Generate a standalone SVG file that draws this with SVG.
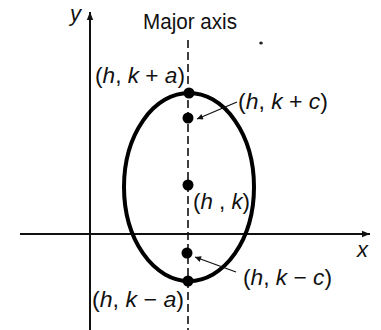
<svg xmlns="http://www.w3.org/2000/svg" width="381" height="330" viewBox="0 0 381 330">
<style>
.ax{stroke:#111;stroke-width:2;fill:none}
.dash{stroke:#111;stroke-width:1.6;stroke-dasharray:8 4;fill:none}
.ell{stroke:#000;stroke-width:4;fill:none}
.lead{stroke:#111;stroke-width:1.3;fill:none}
.t{font-family:"Liberation Sans",Arial,sans-serif;font-size:22px;fill:#111}
.i{font-style:italic}
</style>
<defs>
<marker id="ah" viewBox="0 0 10 10" refX="10" refY="5" markerWidth="14" markerHeight="8" markerUnits="userSpaceOnUse" orient="auto">
<path d="M0,1 L10,5 L0,9 Z" fill="#111"/>
</marker>
<marker id="sm" viewBox="0 0 10 10" refX="10" refY="5" markerWidth="9" markerHeight="6" markerUnits="userSpaceOnUse" orient="auto">
<path d="M0,0 L10,5 L0,10 Z" fill="#111"/>
</marker>
</defs>
<g id="axes">
<line class="ax" x1="20" y1="234" x2="370" y2="234" marker-end="url(#ah)"/>
<line class="ax" x1="90" y1="330" x2="90" y2="12" marker-end="url(#ah)"/>
<text class="t i" x="70" y="21">y</text>
<text class="t i" x="357" y="257">x</text>
</g>
<g id="major-axis">
<line class="dash" x1="188" y1="40" x2="188" y2="330"/>
<text class="t" x="143" y="29" textLength="94" lengthAdjust="spacingAndGlyphs">Major axis</text>
</g>
<g id="ellipse">
<ellipse class="ell" cx="189" cy="187" rx="65" ry="94"/>
</g>
<g id="vertex-top">
<circle cx="189" cy="93" r="5.5" fill="#000"/>
<text class="t" x="95" y="83" textLength="90" lengthAdjust="spacingAndGlyphs">(<tspan class="i">h</tspan>, <tspan class="i">k</tspan> + <tspan class="i">a</tspan>)</text>
</g>
<g id="focus-top">
<circle cx="188" cy="118" r="5.5" fill="#000"/>
<text class="t" x="238" y="109" textLength="90" lengthAdjust="spacingAndGlyphs">(<tspan class="i">h</tspan>, <tspan class="i">k</tspan> + <tspan class="i">c</tspan>)</text>
</g>
<g id="center">
<circle cx="188" cy="185" r="5.5" fill="#000"/>
<text class="t" x="193" y="209" textLength="57" lengthAdjust="spacingAndGlyphs">(<tspan class="i">h</tspan> , <tspan class="i">k</tspan>)</text>
</g>
<g id="focus-bottom">
<circle cx="187" cy="253" r="5.5" fill="#000"/>
<text class="t" x="243" y="285" textLength="89" lengthAdjust="spacingAndGlyphs">(<tspan class="i">h</tspan>, <tspan class="i">k</tspan> − <tspan class="i">c</tspan>)</text>
</g>
<g id="vertex-bottom">
<circle cx="188" cy="281" r="5.5" fill="#000"/>
<text class="t" x="92" y="307" textLength="92" lengthAdjust="spacingAndGlyphs">(<tspan class="i">h</tspan>, <tspan class="i">k</tspan> − <tspan class="i">a</tspan>)</text>
</g>
<g id="connectors">
<line class="lead" x1="237" y1="102" x2="197" y2="119" marker-end="url(#sm)"/>
<line class="lead" x1="236" y1="272" x2="195" y2="257" marker-end="url(#sm)"/>
</g>
<ellipse cx="261" cy="43" rx="1.8" ry="1.5" fill="#222"/>
</svg>
